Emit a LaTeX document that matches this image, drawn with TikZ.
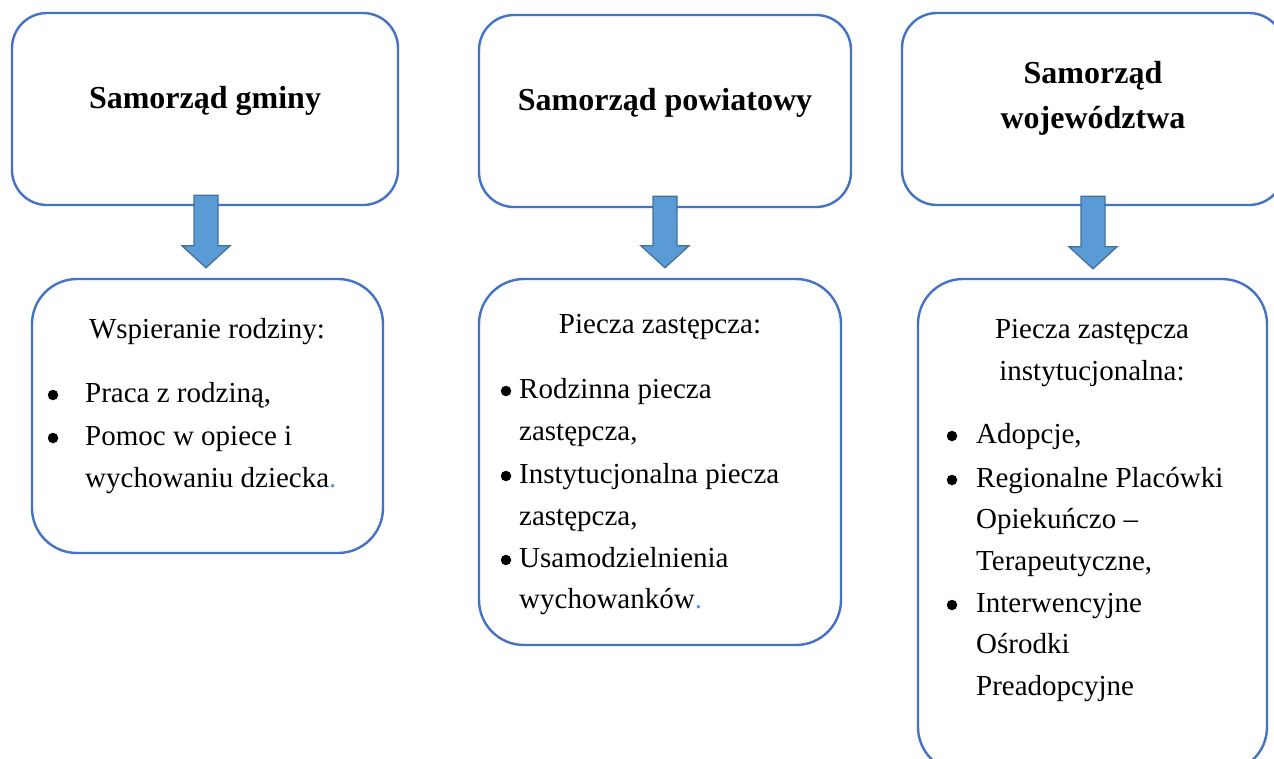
\documentclass[tikz,border=0pt]{standalone}
\usepackage{fontspec}
\setmainfont{Liberation Serif}
\usetikzlibrary{calc}
\definecolor{boxblue}{HTML}{4472C4}
\definecolor{arrowfill}{HTML}{5B9BD5}
\definecolor{arrowline}{HTML}{41719C}
\begin{document}
\begin{tikzpicture}[x=1pt,y=-1pt,
  topbox/.style={draw=boxblue, line width=2.4pt, rounded corners=35pt, fill=white, inner sep=0pt},
  botbox/.style={draw=boxblue, line width=2.4pt, rounded corners=45pt, fill=white, inner sep=0pt},
  head/.style={font=\fontsize{32}{45}\selectfont\bfseries, anchor=base, inner sep=0pt},
  ctr/.style={font=\fontsize{29}{42}\selectfont, anchor=base, inner sep=0pt},
  body/.style={font=\fontsize{29}{42}\selectfont, anchor=base west, inner sep=0pt},
  bdot/.style={circle, fill=black, inner sep=0pt, minimum size=10.5pt},
  blockarrow/.style={fill=arrowfill, draw=arrowline, line width=1.3pt, line join=miter}]
\useasboundingbox (0,0) rectangle (1274,758);
\fill[white] (0,0) rectangle (1274,758);

% top boxes
\node[topbox, minimum width=386pt, minimum height=192pt] (t1) at (205,109) {};
\node[topbox, minimum width=372pt, minimum height=192pt] (t2) at (665,111) {};
\node[topbox, minimum width=382pt, minimum height=192pt] (t3) at (1093,109) {};

% bottom boxes
\node[botbox, minimum width=351pt, minimum height=274pt] (b1) at (207.5,416) {};
\node[botbox, minimum width=362pt, minimum height=366pt] (b2) at (660,462) {};
\node[botbox, minimum width=349pt, minimum height=493pt] (b3) at (1092.5,525.5) {};

% block arrows
\coordinate (a1s) at ($(t1.south)+(1,-11)$);
\coordinate (a1e) at ($(a1s |- b1.north)+(0,-10)$);
\coordinate (a2s) at ($(t2.south)+(0,-12)$);
\coordinate (a2e) at ($(a2s |- b2.north)+(0,-10)$);
\coordinate (a3s) at ($(t3.south)+(0,-10)$);
\coordinate (a3e) at ($(a3s |- b3.north)+(0,-9)$);
\foreach \s/\e in {a1s/a1e, a2s/a2e, a3s/a3e}{
  \draw[blockarrow] ($(\s)+(-12,0)$) -- ($(\s)+(12,0)$) -- ($(\e)+(12,-22)$) -- ($(\e)+(24,-22)$)
    -- (\e) -- ($(\e)+(-24,-22)$) -- ($(\e)+(-12,-22)$) -- cycle;
}

% headings
\node[head] (h1) at (205,108) {Samorząd gminy};
\node[head] (h2) at (665,110) {Samorząd powiatowy};
\node[head] (h3a) at (1093,83) {Samorząd};
\node[head] (h3b) at (1093,128) {województwa};

% box 1 content
\node[ctr] (c1) at (207,338) {Wspieranie rodziny:};
\node[bdot] (d11) at (53,395) {};
\node[body] (l11) at (85,402) {Praca z rodziną,};
\node[bdot] (d12) at (53,438) {};
\node[body] (l12) at (85,445) {Pomoc w opiece i};
\node[body] (l13) at (85,487) {wychowaniu dziecka\textcolor{arrowfill}{.}};

% box 2 content
\node[ctr] (c2) at (660,333) {Piecza zastępcza:};
\node[bdot] (d21) at (506,391) {};
\node[body] (l21) at (519,398) {Rodzinna piecza};
\node[body] (l22) at (519,440) {zastępcza,};
\node[bdot] (d22) at (506,476) {};
\node[body] (l23) at (519,483) {Instytucjonalna piecza};
\node[body] (l24) at (519,525) {zastępcza,};
\node[bdot] (d23) at (506,560) {};
\node[body] (l25) at (519,567) {Usamodzielnienia};
\node[body] (l26) at (519,608) {wychowanków\textcolor{arrowfill}{.}};

% box 3 content
\node[ctr] (c3a) at (1092,338) {Piecza zastępcza};
\node[ctr] (c3b) at (1092,380) {instytucjonalna:};
\node[bdot] (d31) at (952,436) {};
\node[body] (l31) at (976,443) {Adopcje,};
\node[bdot] (d32) at (952,480) {};
\node[body] (l32) at (976,487) {Regionalne Placówki};
\node[body] (l33) at (976,528) {Opiekuńczo –};
\node[body] (l34) at (976,570) {Terapeutyczne,};
\node[bdot] (d33) at (952,605) {};
\node[body] (l35) at (976,612) {Interwencyjne};
\node[body] (l36) at (976,653) {Ośrodki};
\node[body] (l37) at (976,695) {Preadopcyjne};
\end{tikzpicture}
\end{document}
